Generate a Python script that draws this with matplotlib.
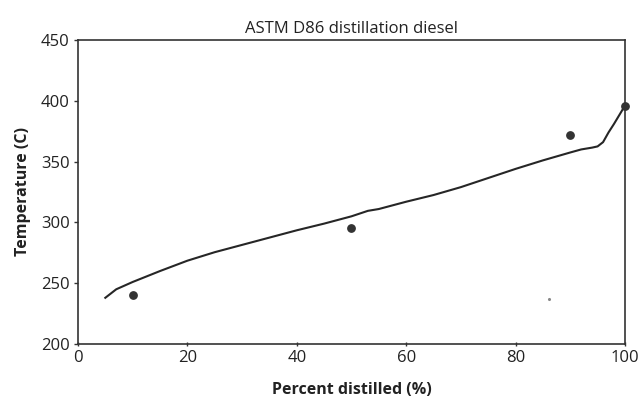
import matplotlib.pyplot as plt

# measured points
pct_pts = [10, 50, 90, 100]
temp_pts = [240, 295.5, 371.5, 396]

# hand-drawn fitted curve
pct_curve = [5, 7, 10, 15, 20, 25, 30, 35, 40, 45, 50, 53, 55, 60, 65, 70,
             75, 80, 85, 90, 92, 94, 95, 96, 97, 98, 99, 100]
temp_curve = [238, 245, 251, 260, 268.5, 275.5, 281.5, 287.5, 293.5, 299, 305,
              309.5, 311, 317, 322.5, 329, 336.5, 344, 351, 357.5, 360, 361.5,
              362.5, 366, 374, 381, 388.5, 396]

# stray speck from the scan
speck_x = [86.2]
speck_y = [237]

plt.rcParams['font.family'] = ['Open Sans', 'DejaVu Sans']

fig = plt.figure(figsize=(6.39, 4.0), dpi=100)
ax = fig.add_axes([0.122, 0.14, 0.856, 0.76])

ax.plot(pct_curve, temp_curve, color='#262626', lw=1.5, zorder=2)
ax.scatter(pct_pts, temp_pts, s=28, color='#333333', zorder=3, clip_on=False)
ax.scatter(speck_x, speck_y, s=1.5, color='#888888', zorder=3)

ax.set_xlim(0, 100)
ax.set_ylim(200, 450)
ax.set_xticks([0, 20, 40, 60, 80, 100])
ax.set_yticks([200, 250, 300, 350, 400, 450])

for s in ax.spines.values():
    s.set_color('#333333')
    s.set_linewidth(1.2)
ax.tick_params(axis='both', labelsize=12, color='#333333', length=3, width=1,
               labelcolor='#222222')
ax.tick_params(axis='x', direction='inout', pad=3)
ax.tick_params(axis='y', direction='out', pad=3)

ax.set_title('ASTM D86 distillation diesel', fontsize=12, pad=5, color='#222222')
ax.set_xlabel('Percent distilled (%)', fontsize=11.5, fontweight='bold',
              labelpad=11, color='#222222')
ax.set_ylabel('Temperature (C)', fontsize=11.5, fontweight='bold',
              labelpad=7, color='#222222')

fig.savefig('out.png', dpi=100)
